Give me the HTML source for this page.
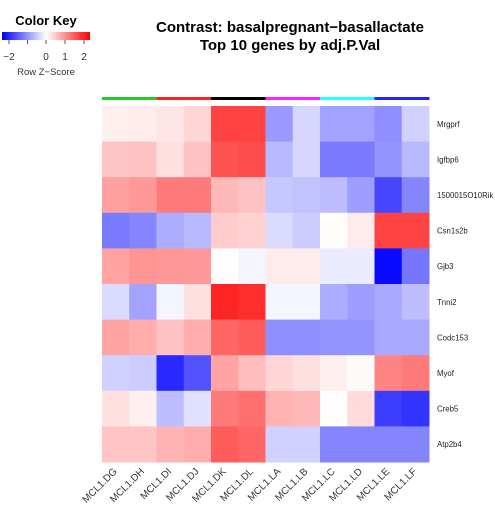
<!DOCTYPE html>
<html><head><meta charset="utf-8"><style>
body{margin:0;background:#fff;}
svg{display:block;font-family:"Liberation Sans",sans-serif;}
</style></head><body>
<svg id="chart" width="495" height="511">
<defs><linearGradient id="kg" x1="0" x2="1">
<stop offset="0" stop-color="#0000ff"/><stop offset="0.5" stop-color="#ffffff"/><stop offset="1" stop-color="#ff0000"/></linearGradient></defs>
<g>
<text x="46" y="25" text-anchor="middle" font-size="13" font-weight="bold">Color Key</text>
<rect x="2" y="32" width="88" height="8" fill="url(#kg)"/>
<g stroke="#555" stroke-width="1"><line x1="9" y1="40" x2="9" y2="44"/><line x1="27.5" y1="40" x2="27.5" y2="44"/><line x1="46" y1="40" x2="46" y2="44"/><line x1="65" y1="40" x2="65" y2="44"/><line x1="84" y1="40" x2="84" y2="44"/></g>
<g font-size="10" fill="#333" text-anchor="middle"><text x="9" y="60">−2</text><text x="46" y="60">0</text><text x="65" y="60">1</text><text x="84" y="60">2</text></g>
<text x="46" y="75" text-anchor="middle" font-size="9.5" fill="#333">Row Z−Score</text>
</g>
<text x="290" y="32" text-anchor="middle" font-size="15" font-weight="bold">Contrast: basalpregnant−basallactate</text>
<text x="290" y="50" text-anchor="middle" font-size="15" font-weight="bold">Top 10 genes by adj.P.Val</text>
<g id="cells"></g><g id="groups"></g><g id="rlabels"></g><g id="clabels"></g>
</svg>
<script>
const genes=["Mrgprf","Igfbp6","1500015O10Rik","Csn1s2b","Gjb3","Tnni2","Codc153","Myof","Creb5","Atp2b4"];
const samples=["MCL1.DG","MCL1.DH","MCL1.DI","MCL1.DJ","MCL1.DK","MCL1.DL","MCL1.LA","MCL1.LB","MCL1.LC","MCL1.LD","MCL1.LE","MCL1.LF"];
const groupColors=["#22cc22","#ff2222","#000000","#ff22ff","#22ffff","#2222ff"];
const groupOf=[0,0,1,1,2,2,3,3,4,4,5,5];
const z=[
[0.15,0.18,0.25,0.4,1.85,1.85,-1.0,-0.4,-0.9,-0.9,-1.1,-0.45],
[0.57,0.6,0.3,0.6,1.7,1.75,-0.7,-0.4,-1.3,-1.3,-1.05,-0.7],
[0.93,1.0,1.3,1.3,0.7,0.6,-0.55,-0.6,-0.65,-0.95,-1.8,-1.2],
[-1.3,-1.2,-0.8,-0.7,0.5,0.45,-0.35,-0.5,0.03,0.2,1.85,1.85],
[0.9,1.05,1.0,1.0,0.02,-0.1,0.2,0.2,-0.2,-0.2,-2.4,-1.35],
[-0.35,-0.9,-0.1,0.3,2.15,2.05,-0.1,-0.1,-0.8,-0.95,-0.85,-0.65],
[0.9,0.8,0.6,0.8,1.5,1.6,-1.1,-1.1,-1.05,-1.05,-0.85,-0.85],
[-0.45,-0.5,-2.1,-1.7,0.9,0.65,0.4,0.3,0.15,0.05,1.2,1.3],
[0.3,0.15,-0.65,-0.3,1.3,1.4,0.75,0.7,0.02,0.35,-1.9,-2.0],
[0.57,0.57,0.75,0.8,1.6,1.5,-0.45,-0.45,-1.2,-1.2,-1.2,-1.2]];
const X0=102,X1=429,Y0=106,Y1=462,NS="http://www.w3.org/2000/svg";
const cw=(X1-X0)/samples.length, rh=(Y1-Y0)/genes.length;
const xs=i=>X0+i*cw, ys=j=>Y0+j*rh;
function col(v){const t=Math.min(1,Math.abs(v)/2.5);const c=Math.round(255*(1-t));return v>=0?`rgb(255,${c},${c})`:`rgb(${c},${c},255)`;}
const cells=document.getElementById('cells');
z.forEach((row,j)=>row.forEach((v,i)=>{const r=document.createElementNS(NS,'rect');
r.setAttribute('x',xs(i));r.setAttribute('y',ys(j));r.setAttribute('width',cw+0.5);r.setAttribute('height',rh+0.5);r.setAttribute('fill',col(v));


cells.appendChild(r);}));
const groups=document.getElementById('groups');
samples.forEach((s,i)=>{const r=document.createElementNS(NS,'rect');
r.setAttribute('x',xs(i));r.setAttribute('y',97);r.setAttribute('width',cw+0.5);r.setAttribute('height',3);r.setAttribute('fill',groupColors[groupOf[i]]);


groups.appendChild(r);});
const rl=document.getElementById('rlabels');
genes.forEach((g,j)=>{const t=document.createElementNS(NS,'text');
t.setAttribute('x',437);t.setAttribute('y',ys(j)+rh/2+3);t.setAttribute('font-size','7.8');t.setAttribute('fill','#222');t.textContent=g;


rl.appendChild(t);});
const cl=document.getElementById('clabels');
samples.forEach((s,i)=>{const t=document.createElementNS(NS,'text');const x=xs(i)+cw/2+2,y=472;
t.setAttribute('x',x);t.setAttribute('y',y);t.setAttribute('text-anchor','end');t.setAttribute('font-size','10');t.setAttribute('fill','#333');
t.setAttribute('transform',`rotate(-45 ${x} ${y})`);t.textContent=s;


cl.appendChild(t);});
</script>
</body></html>
